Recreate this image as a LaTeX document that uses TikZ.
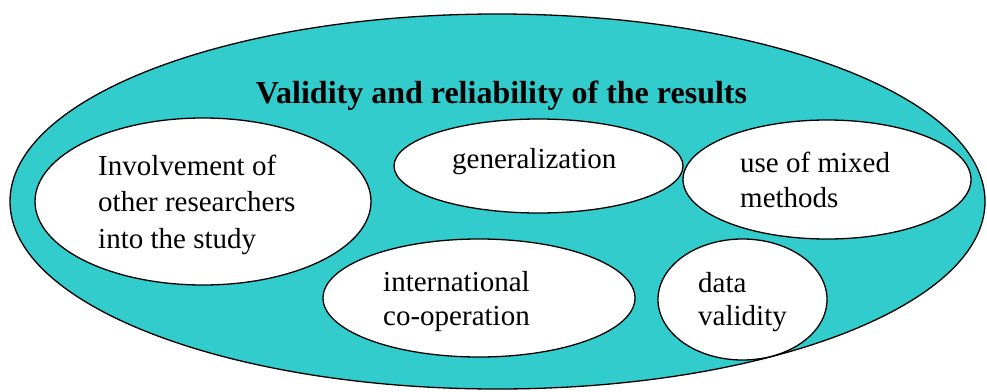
\documentclass[tikz,border=0pt]{standalone}
\usepackage{fontspec}
\setmainfont{LiberationSerif}[Extension=.ttf,UprightFont=*-Regular,BoldFont=*-Bold]
\usetikzlibrary{shapes.geometric}
\definecolor{tealfill}{RGB}{51,204,204}
\begin{document}
\begin{tikzpicture}[x=1pt,y=-1pt,
  oval/.style={ellipse,draw=black,line width=1.3pt,inner sep=0pt},
  inner/.style={oval,fill=white},
  lbl/.style={anchor=base west,inner sep=0pt,font=\fontsize{29}{35}\selectfont},
  ttl/.style={anchor=base,inner sep=0pt,font=\bfseries\fontsize{32}{38}\selectfont}]
\useasboundingbox (0,0) rectangle (987,391);
\begin{scope}
\clip (0,0) rectangle (987,391);
\node[oval,fill=tealfill,minimum width=975pt,minimum height=375pt] (outer) at (497.5,201.5) {};
\end{scope}
\node[ttl] (title) at (501.5,103) {Validity and reliability of the results};
\node[inner,minimum width=336pt,minimum height=167pt] (inv) at (203,201.5) {};
\node[inner,minimum width=289pt,minimum height=94pt] (gen) at (538.5,166) {};
\node[inner,minimum width=288pt,minimum height=119pt] (mix) at (827,179.5) {};
\node[inner,minimum width=312pt,minimum height=118pt] (intl) at (479,298) {};
\node[inner,minimum width=169pt,minimum height=121pt] (data) at (742.5,299.5) {};
\node[lbl] (inv1) at (98,175) {Involvement of};
\node[lbl] (inv2) at (98,211.5) {other researchers};
\node[lbl] (inv3) at (98,248) {into the study};
\node[lbl] (gen1) at (452,168) {generalization};
\node[lbl] (mix1) at (740,172) {use of mixed};
\node[lbl] (mix2) at (740,207) {methods};
\node[lbl] (intl1) at (383,291) {international};
\node[lbl] (intl2) at (383,325) {co-operation};
\node[lbl] (data1) at (698,292) {data};
\node[lbl] (data2) at (698,325) {validity};
\end{tikzpicture}
\end{document}
